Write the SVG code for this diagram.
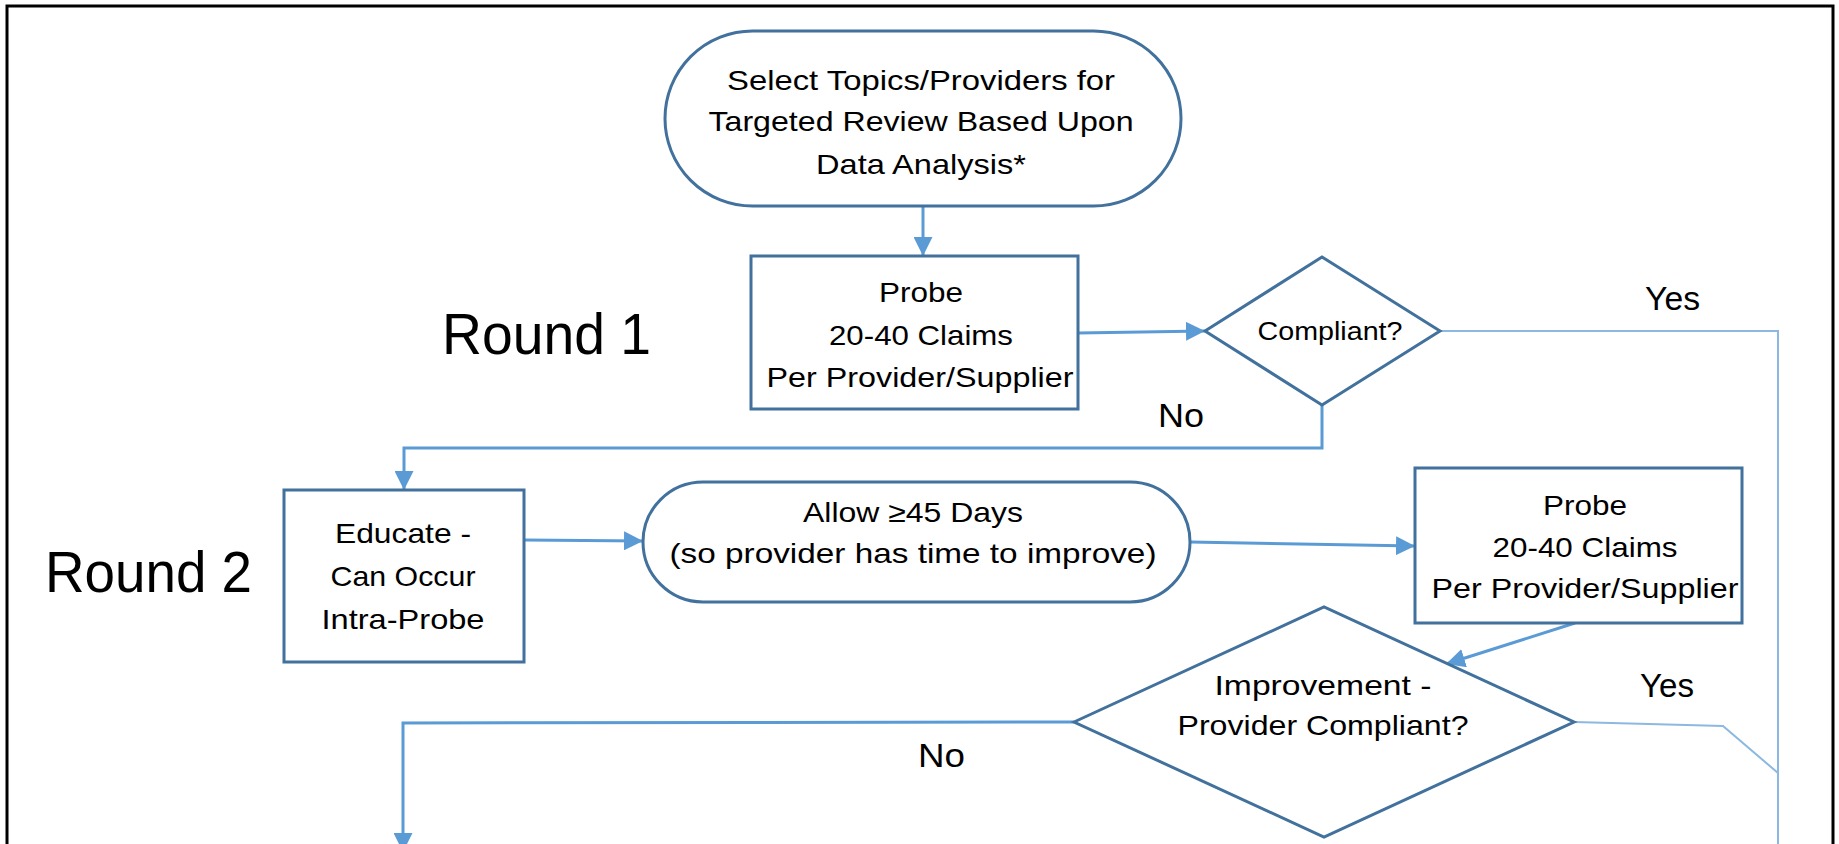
<svg xmlns="http://www.w3.org/2000/svg" width="1839" height="844" viewBox="0 0 1839 844">
<style>
.node{fill:#ffffff;stroke:#41719C;stroke-width:3}
.t{font-family:'Liberation Sans',Arial,sans-serif;font-size:28.5px;fill:#000;text-anchor:middle}
.lbl{font-family:'Liberation Sans',Arial,sans-serif;font-size:34px;fill:#000}
.big{font-family:'Liberation Sans',Arial,sans-serif;font-size:57px;fill:#000}
.conn{fill:none;stroke:#5B9BD5;stroke-width:3}
.thin{fill:none;stroke:#8DB8E2;stroke-width:2}
</style>
<defs>
<marker id="arr" viewBox="0 0 10 10" refX="10" refY="5" markerWidth="19" markerHeight="19" markerUnits="userSpaceOnUse" orient="auto">
<path d="M0,0 L10,5 L0,10 z" fill="#5B9BD5"/>
</marker>
</defs>
<rect x="0" y="0" width="1839" height="844" fill="#ffffff"/>
<rect x="7" y="6" width="1826" height="900" fill="none" stroke="#000" stroke-width="3"/>

<g id="connectors">
<path class="conn" d="M923,206 L923,256" marker-end="url(#arr)"/>
<path class="conn" d="M1078,333 L1205,331" marker-end="url(#arr)"/>
<path class="thin" d="M1440,331 L1778,331 L1778,850"/>
<path class="conn" d="M1322,405 L1322,448 L404,448 L404,490" marker-end="url(#arr)"/>
<path class="conn" d="M524,540 L643,541" marker-end="url(#arr)"/>
<path class="conn" d="M1190,542 L1415,546" marker-end="url(#arr)"/>
<path class="conn" d="M1575,623 L1446,664" marker-end="url(#arr)"/>
<path class="thin" d="M1574,722 L1723,726 L1778,773"/>
<path class="conn" d="M1074,722 L403,723 L403,852" marker-end="url(#arr)"/>
</g>

<g id="start">
<rect class="node" x="665" y="31" width="516" height="175" rx="87.5" ry="87.5"/>
<text class="t" x="921" y="90" textLength="388" lengthAdjust="spacingAndGlyphs">Select Topics/Providers for</text>
<text class="t" x="921" y="131" textLength="425" lengthAdjust="spacingAndGlyphs">Targeted Review Based Upon</text>
<text class="t" x="921" y="174" textLength="210" lengthAdjust="spacingAndGlyphs">Data Analysis*</text>
</g>

<g id="probe1">
<rect class="node" x="751" y="256" width="327" height="153"/>
<text class="t" x="921" y="302" textLength="84" lengthAdjust="spacingAndGlyphs">Probe</text>
<text class="t" x="921" y="345" textLength="184" lengthAdjust="spacingAndGlyphs">20-40 Claims</text>
<text class="t" x="920" y="387" textLength="307" lengthAdjust="spacingAndGlyphs">Per Provider/Supplier</text>
</g>

<g id="compliant">
<polygon class="node" points="1205,331 1322,257 1440,331 1322,405"/>
<text class="t" x="1330" y="340" style="font-size:26px" textLength="145" lengthAdjust="spacingAndGlyphs">Compliant?</text>
</g>

<g id="educate">
<rect class="node" x="284" y="490" width="240" height="172"/>
<text class="t" x="403" y="543" textLength="136" lengthAdjust="spacingAndGlyphs">Educate -</text>
<text class="t" x="403" y="586" textLength="145" lengthAdjust="spacingAndGlyphs">Can Occur</text>
<text class="t" x="403" y="629" textLength="163" lengthAdjust="spacingAndGlyphs">Intra-Probe</text>
</g>

<g id="allow">
<rect class="node" x="643" y="482" width="547" height="120" rx="60" ry="60"/>
<text class="t" x="913" y="522" textLength="220" lengthAdjust="spacingAndGlyphs">Allow ≥45 Days</text>
<text class="t" x="913" y="563" textLength="487" lengthAdjust="spacingAndGlyphs">(so provider has time to improve)</text>
</g>

<g id="probe2">
<rect class="node" x="1415" y="468" width="327" height="155"/>
<text class="t" x="1585" y="515" textLength="84" lengthAdjust="spacingAndGlyphs">Probe</text>
<text class="t" x="1585" y="557" textLength="185" lengthAdjust="spacingAndGlyphs">20-40 Claims</text>
<text class="t" x="1585" y="598" textLength="307" lengthAdjust="spacingAndGlyphs">Per Provider/Supplier</text>
</g>

<g id="improvement">
<polygon class="node" points="1074,722 1324,607 1574,722 1324,837"/>
<text class="t" x="1323" y="695" textLength="217" lengthAdjust="spacingAndGlyphs">Improvement -</text>
<text class="t" x="1323" y="735" textLength="291" lengthAdjust="spacingAndGlyphs">Provider Compliant?</text>
</g>

<g id="labels">
<text class="big" x="442" y="354" textLength="209" lengthAdjust="spacingAndGlyphs">Round 1</text>
<text class="big" x="45" y="592" textLength="207" lengthAdjust="spacingAndGlyphs">Round 2</text>
<text class="lbl" x="1645" y="310" textLength="55" lengthAdjust="spacingAndGlyphs">Yes</text>
<text class="lbl" x="1158" y="427" textLength="46" lengthAdjust="spacingAndGlyphs">No</text>
<text class="lbl" x="1640" y="697" textLength="54" lengthAdjust="spacingAndGlyphs">Yes</text>
<text class="lbl" x="918" y="767" textLength="47" lengthAdjust="spacingAndGlyphs">No</text>
</g>
</svg>
